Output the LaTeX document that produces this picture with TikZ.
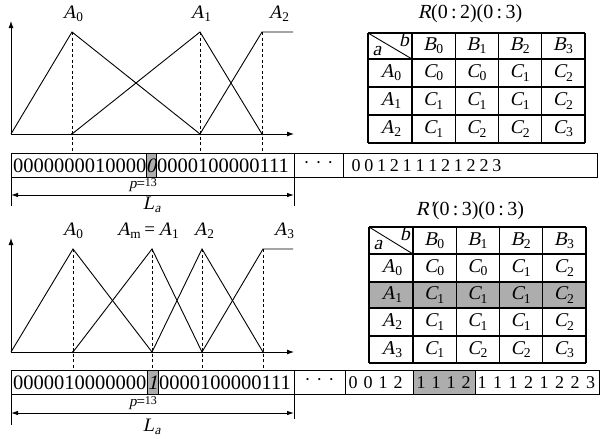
\documentclass[tikz,border=0pt]{standalone}
\usepackage{fontspec}
\setmainfont{Liberation Serif}
\newfontfamily\slfam{Liberation Serif}[FakeSlant=0.22]
\usetikzlibrary{arrows.meta}
\newcommand{\slt}[1]{{\slfam #1}}
\newcommand{\Asub}[2]{\slt{#1}\textsubscript{#2}}
\begin{document}
\begin{tikzpicture}[x=1pt,y=-1pt,
  mf/.style={line width=0.9pt},
  axisline/.style={line width=0.9pt,-{Latex[length=7pt,width=5pt]}},
  dimline/.style={line width=0.9pt,{Latex[length=7pt,width=4.5pt]}-{Latex[length=7pt,width=4.5pt]}},
  guide/.style={dash pattern=on 3pt off 2.5pt,line width=0.7pt},
  cellbox/.style={draw,line width=0.9pt},
  tab/.style={line width=1.4pt},
  lab/.style={font=\fontsize{19}{19}\selectfont,inner sep=0pt},
  bits/.style={font=\fontsize{20.5}{20.5}\selectfont,inner sep=0pt,anchor=west},
  dig/.style={font=\fontsize{18}{18}\selectfont,inner sep=0pt},
  tcell/.style={font=\fontsize{19.5}{19.5}\selectfont,inner sep=0pt},
  small/.style={font=\fontsize{15}{15}\selectfont,inner sep=0pt},
  ttl/.style={font=\fontsize{20}{20}\selectfont,inner sep=0pt},
  shade/.style={fill=black!32},
  basedot/.style={circle,fill,inner sep=0pt,minimum size=2.5pt},
]
\useasboundingbox (0,0) rectangle (600,439);

% ================= TOP CHART =================
\coordinate (o1) at (11,134);
\coordinate (ya1) at (11,21);
\coordinate (xa1) at (294,134);
\draw[axisline] (o1) -- (ya1);
\draw[axisline] (o1) -- (xa1);
\coordinate (p10) at (72,32);  \coordinate (b10) at (72,134);
\coordinate (p11) at (200,32); \coordinate (b11) at (200,134);
\coordinate (p12) at (262,32); \coordinate (b12) at (262,134);
\coordinate (e12) at (293,32);
\draw[mf] (o1) -- (p10) -- (b11);
\draw[mf] (b10) -- (p11) -- (b12);
\draw[mf] (b11) -- (p12) -- (e12);
\coordinate (g10) at (72,153);
\coordinate (g11) at (200,153);
\coordinate (g12) at (262,153);
\draw[guide] (p10) -- (g10);
\draw[guide] (p11) -- (g11);
\draw[guide] (p12) -- (g12);
\node[basedot] (d10) at (b10) {};
\node[basedot] (d11) at (b11) {};
\node[basedot] (d12) at (b12) {};
\node[lab] (lA10) at (73,14) {\Asub{A}{0}};
\node[lab] (lA11) at (201,14) {\Asub{A}{1}};
\node[lab] (lA12) at (279,14) {\Asub{A}{2}};

% top string
\draw[cellbox] (11,153) rectangle (294,177);
\draw[shade,line width=0.5pt] (146,153) rectangle (156,177);
\node[bits] (s1l) at (13,165.5) {0000000010000};
\node[bits,anchor=center] (s1m) at (151,165.5) {\slt{0}};
\node[bits] (s1r) at (157,165.5) {0000100000111};
\draw[cellbox] (294,153) rectangle (343,177);
\node[dig] (dots1) at (318.5,165) {·\,\,·\,\,·};
\draw[cellbox] (343,153) rectangle (597,177);
\foreach \d [count=\i from 0] in {0,0,1,2,1,1,1,2,1,2,2,3}
  \node[dig] (t1d\i) at (356+12.8*\i,165.5) {\d};
% dimension
\coordinate (L1a) at (11,195);
\coordinate (L1b) at (294,195);
\draw[line width=0.8pt] (11,177) -- (11,206);
\draw[line width=0.8pt] (294,177) -- (294,206);
\draw[dimline] (L1a) -- (L1b);
\node[small] (p1) at (143,185) {\slt{p}=\raisebox{2pt}{\fontsize{12}{12}\selectfont 13}};
\node[lab] (La1) at (152,205) {\slt{L}\textsubscript{\slt{a}}};

% top table
\node[ttl] (R1) at (470,14) {\slt{R}(0\,:\,2)(0\,:\,3)};
\foreach \x in {368,412,455.25,498.5,541.75,585}
  \draw[tab] (\x,33) -- (\x,143);
\foreach \y in {33,59,87,115,143}
  \draw[tab] (368,\y) -- (585,\y);
\draw[line width=0.9pt] (368,33) -- (412,59);
\node[tcell] (h1a) at (377,51) {\slt{a}};
\node[tcell] (h1b) at (404,40) {\slt{b}};
\foreach \c in {0,1,2,3}
  \node[tcell] (h1B\c) at (412+43.25*\c+21.6,46) {\Asub{B}{\c}};
\foreach \r/\vals in {0/{0,0,1,2},1/{1,1,1,2},2/{1,2,2,3}} {
  \node[tcell] (r1A\r) at (391,73+28*\r) {\Asub{A}{\r}};
  \foreach \v [count=\c from 0] in \vals
    \node[tcell] (c1\r\c) at (412+43.25*\c+21.6,73+28*\r) {\Asub{C}{\v}};
}

% ================= BOTTOM CHART =================
\coordinate (o2) at (11,352);
\coordinate (ya2) at (11,238);
\coordinate (xa2) at (294,352);
\draw[axisline] (o2) -- (ya2);
\draw[axisline] (o2) -- (xa2);
\coordinate (p20) at (73,249);  \coordinate (b20) at (73,352);
\coordinate (p21) at (152,249); \coordinate (b21) at (152,352);
\coordinate (p22) at (202,249); \coordinate (b22) at (202,352);
\coordinate (p23) at (263,249); \coordinate (b23) at (263,352);
\coordinate (e23) at (293,249);
\draw[mf] (o2) -- (p20) -- (b21);
\draw[mf] (b20) -- (p21) -- (b22);
\draw[mf] (b21) -- (p22) -- (b23);
\draw[mf] (b22) -- (p23) -- (e23);
\foreach \i/\x in {0/73,1/152,2/202,3/263} {
  \coordinate (g2\i) at (\x,370);
  \draw[guide] (p2\i) -- (g2\i);
  \node[basedot] (d2\i) at (b2\i) {};
}
\node[lab] (lA20) at (73,231) {\Asub{A}{0}};
\node[lab] (lA21) at (148,231) {\Asub{A}{m}\,=\,\Asub{A}{1}};
\node[lab] (lA22) at (204,231) {\Asub{A}{2}};
\node[lab] (lA23) at (284,231) {\Asub{A}{3}};

% bottom string
\draw[cellbox] (11,370) rectangle (294,394);
\draw[shade,line width=0.5pt] (147,370) rectangle (158,394);
\node[bits] (s2l) at (13,382.5) {0000010000000};
\node[bits,anchor=center] (s2m) at (152.5,382.5) {\slt{1}};
\node[bits] (s2r) at (159,382.5) {0000100000111};
\draw[cellbox] (294,370) rectangle (345,394);
\node[dig] (dots2) at (319.5,382) {·\,\,·\,\,·};
\draw[cellbox] (345,370) rectangle (599,394);
\draw[shade,line width=0.9pt] (413,370) rectangle (475,394);
\foreach \d [count=\i from 0] in {0,0,1,2}
  \node[dig] (t2a\i) at (353+15*\i,382.5) {\d};
\foreach \d [count=\i from 0] in {1,1,1,2}
  \node[dig] (t2b\i) at (421+15*\i,382.5) {\d};
\foreach \d [count=\i from 0] in {1,1,1,2,1,2,2,3}
  \node[dig] (t2c\i) at (482+15.5*\i,382.5) {\d};
% dimension
\coordinate (L2a) at (11,413);
\coordinate (L2b) at (294,413);
\draw[line width=0.8pt] (11,394) -- (11,425);
\draw[line width=0.8pt] (294,394) -- (294,419);
\draw[dimline] (L2a) -- (L2b);
\node[small] (p2) at (143,403) {\slt{p}=\raisebox{2pt}{\fontsize{12}{12}\selectfont 13}};
\node[lab] (La2) at (152,427) {\slt{L}\textsubscript{\slt{a}}};

% bottom table
\node[ttl] (R2) at (470,211) {\slt{R'}(0\,:\,3)(0\,:\,3)};
\fill[black!32] (369,282) rectangle (586,308);
\foreach \x in {369,413,456.25,499.5,542.75,586}
  \draw[tab] (\x,227) -- (\x,363);
\foreach \y in {227,254,282,308,336,363}
  \draw[tab] (369,\y) -- (586,\y);
\draw[line width=0.9pt] (369,227) -- (413,254);
\node[tcell] (h2a) at (378,245) {\slt{a}};
\node[tcell] (h2b) at (405,234) {\slt{b}};
\foreach \c in {0,1,2,3}
  \node[tcell] (h2B\c) at (413+43.25*\c+21.6,240.5) {\Asub{B}{\c}};
\foreach \r/\y/\vals in {0/268/{0,0,1,2},1/295/{1,1,1,2},2/322/{1,1,1,2},3/349.5/{1,2,2,3}} {
  \node[tcell] (r2A\r) at (392,\y) {\Asub{A}{\r}};
  \foreach \v [count=\c from 0] in \vals
    \node[tcell] (c2\r\c) at (413+43.25*\c+21.6,\y) {\Asub{C}{\v}};
}
\end{tikzpicture}
\end{document}
